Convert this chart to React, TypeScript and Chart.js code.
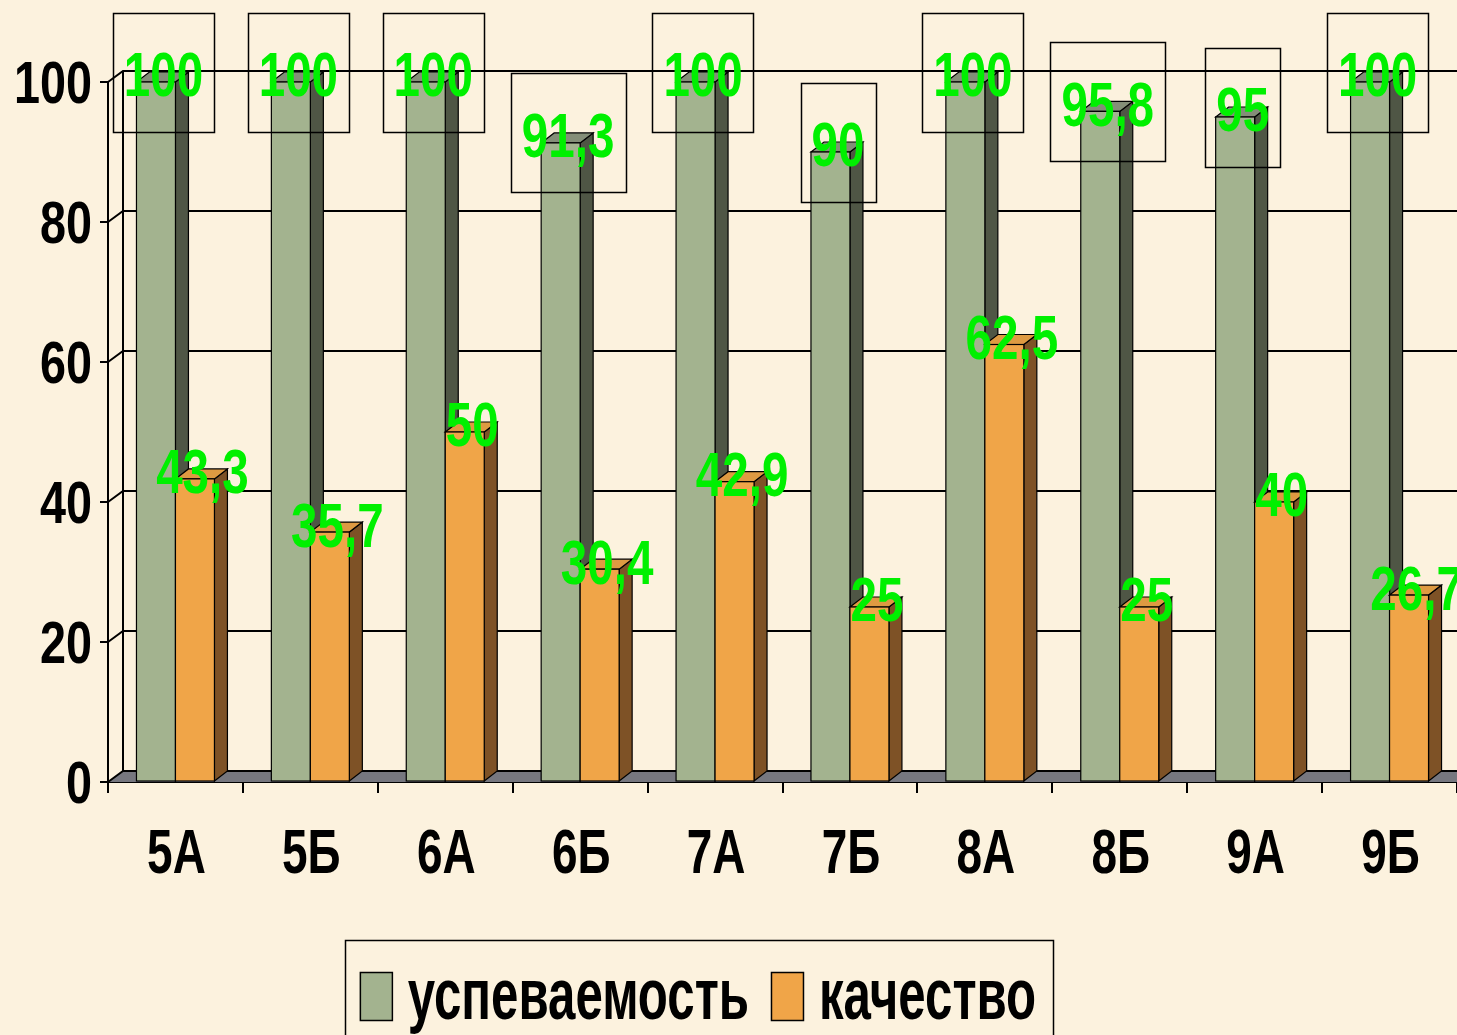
import React, { useEffect, useRef } from 'react';
import { Chart, registerables } from 'chart.js';

Chart.register(...registerables);

const categories = ['5А', '5Б', '6А', '6Б', '7А', '7Б', '8А', '8Б', '9А', '9Б'];
const seriesNames = ['успеваемость', 'качество'];
const uspevaemost = [100, 100, 100, 91.3, 100, 90, 100, 95.8, 95, 100];
const kachestvo = [43.3, 35.7, 50, 30.4, 42.9, 25, 62.5, 25, 40, 26.7];
const yMin = 0;
const yMax = 100;
const yStep = 20;

const FONT = '"Liberation Sans", Arial, sans-serif';
const SX = 0.82; // horizontal squeeze to imitate a narrow face
const BG = '#fcf2de';
const GREEN = { front: '#a3b38f', side: '#4f5645', top: '#848e78' };
const ORANGE = { front: '#f0a548', side: '#7e5226', top: '#de9a42' };
const FLOOR = '#76777f';
const LABEL = '#00f000';
const DX = 13;
const DY = 10;
const WDX = 15;
const WDY = 11;

const fmt = (v: number) => String(v).replace('.', ',');

function setFont(ctx: CanvasRenderingContext2D, size: number) {
  ctx.font = `bold ${size}px ${FONT}`;
}

function textW(ctx: CanvasRenderingContext2D, text: string) {
  return ctx.measureText(text).width * SX;
}

function drawText(
  ctx: CanvasRenderingContext2D,
  text: string,
  x: number,
  baseline: number,
  align: CanvasTextAlign,
  sy: number,
  color: string
) {
  ctx.save();
  ctx.fillStyle = color;
  ctx.textAlign = align;
  ctx.textBaseline = 'alphabetic';
  ctx.translate(x, baseline);
  ctx.scale(SX, sy);
  ctx.fillText(text, 0, 0);
  ctx.restore();
}

const threeD = {
  id: 'threeD',
  beforeDatasetsDraw(chart: any) {
    const { ctx, chartArea: a, scales } = chart;
    const y = scales.y;
    const y0 = y.getPixelForValue(yMin);
    const yTop = y.getPixelForValue(yMax);
    ctx.save();
    ctx.fillStyle = FLOOR;
    ctx.beginPath();
    ctx.moveTo(a.left, y0);
    ctx.lineTo(a.left + WDX, y0 - WDY);
    ctx.lineTo(a.right + WDX, y0 - WDY);
    ctx.lineTo(a.right, y0);
    ctx.closePath();
    ctx.fill();
    ctx.strokeStyle = '#000';
    ctx.lineWidth = 2;
    y.ticks.forEach((t: any) => {
      const py = y.getPixelForValue(t.value);
      ctx.beginPath();
      ctx.moveTo(a.left, py);
      ctx.lineTo(a.left + WDX, py - WDY);
      ctx.lineTo(a.right + WDX, py - WDY);
      ctx.stroke();
    });
    ctx.beginPath();
    ctx.moveTo(a.left + WDX, y0 - WDY);
    ctx.lineTo(a.left + WDX, yTop - WDY);
    ctx.stroke();
    ctx.restore();
  },
  beforeDatasetDraw() {
    return false;
  },
  afterDatasetsDraw(chart: any) {
    const { ctx } = chart;
    const palettes = [GREEN, ORANGE];
    const n = chart.data.labels.length;
    ctx.save();
    ctx.strokeStyle = '#000';
    ctx.lineWidth = 1.2;
    for (let i = 0; i < n; i++) {
      chart.data.datasets.forEach((ds: any, d: number) => {
        const el = chart.getDatasetMeta(d).data[i];
        const { x, y, base, width } = el.getProps(['x', 'y', 'base', 'width'], true);
        const p = palettes[d];
        const xl = x - width / 2;
        const xr = x + width / 2;
        ctx.fillStyle = p.side;
        ctx.beginPath();
        ctx.moveTo(xr, y);
        ctx.lineTo(xr + DX, y - DY);
        ctx.lineTo(xr + DX, base - DY);
        ctx.lineTo(xr, base);
        ctx.closePath();
        ctx.fill();
        ctx.stroke();
        ctx.fillStyle = p.top;
        ctx.beginPath();
        ctx.moveTo(xl, y);
        ctx.lineTo(xl + DX, y - DY);
        ctx.lineTo(xr + DX, y - DY);
        ctx.lineTo(xr, y);
        ctx.closePath();
        ctx.fill();
        ctx.stroke();
        ctx.fillStyle = p.front;
        ctx.fillRect(xl, y, width, base - y);
        ctx.strokeRect(xl, y, width, base - y);
      });
    }
    // value labels
    const size = 58;
    const sy = 1.08;
    setFont(ctx, size);
    const cap = 0.716 * size * sy;
    chart.data.datasets.forEach((ds: any, d: number) => {
      const meta = chart.getDatasetMeta(d);
      meta.data.forEach((el: any, i: number) => {
        const { x, y } = el.getProps(['x', 'y'], true);
        const text = fmt(ds.data[i]);
        const cx = x + DX / 2 + 1;
        const cy = y - 8;
        if (d === 0) {
          const w = textW(ctx, text) + 22;
          const h = 119;
          ctx.strokeStyle = '#000';
          ctx.lineWidth = 1.5;
          ctx.strokeRect(Math.round(cx - w / 2) + 0.5, Math.round(cy - 2 - h / 2) + 0.5, Math.round(w), h);
        }
        drawText(ctx, text, cx, cy + cap / 2, 'center', sy, LABEL);
      });
    });
    ctx.restore();
  },
  afterDraw(chart: any) {
    const { ctx, scales } = chart;
    ctx.save();
    // y tick labels
    const ys = scales.y;
    const ySize = 57;
    const ySy = 1.04;
    setFont(ctx, ySize);
    ys.ticks.forEach((t: any) => {
      const py = ys.getPixelForValue(t.value);
      drawText(ctx, String(t.label), 92, py + (0.716 * ySize * ySy) / 2, 'right', ySy, '#000');
    });
    // x tick labels
    const xs = scales.x;
    const xSize = 56;
    const xSy = 1.12;
    setFont(ctx, xSize);
    xs.ticks.forEach((t: any, i: number) => {
      const px = xs.getPixelForTick(i);
      drawText(ctx, String(xs.getLabelForValue(t.value)), px + 1, 873, 'center', xSy, '#000');
    });
    // legend
    const size = 60;
    const sy = 1.2;
    setFont(ctx, size);
    const sw = 32;
    const sh = 48;
    const gap1 = 16;
    const gap2 = 22;
    const colors = [GREEN.front, ORANGE.front];
    const widths = chart.data.datasets.map((ds: any) => textW(ctx, ds.label));
    const total = widths.reduce((s: number, w: number) => s + sw + gap1 + w, 0) + gap2 * (widths.length - 1);
    const center = 698;
    let x = center - total / 2;
    const boxL = x - 15;
    const boxR = x + total + 17;
    ctx.strokeStyle = '#000';
    ctx.lineWidth = 1.5;
    ctx.strokeRect(Math.round(boxL) + 0.5, 940.5, Math.round(boxR - boxL), 130);
    chart.data.datasets.forEach((ds: any, d: number) => {
      ctx.fillStyle = colors[d];
      ctx.fillRect(x, 972, sw, sh);
      ctx.strokeRect(x + 0.5, 972.5, sw, sh);
      drawText(ctx, ds.label, x + sw + gap1, 1019, 'left', sy, '#000');
      x += sw + gap1 + widths[d] + gap2;
    });
    ctx.restore();
  },
};

export default function App() {
  const ref = useRef<HTMLCanvasElement | null>(null);
  useEffect(() => {
    if (!ref.current) return;
    const tickFont = { family: FONT, size: 56, weight: 'bold' as const };
    const chart = new Chart(ref.current, {
      type: 'bar',
      data: {
        labels: categories,
        datasets: [
          { label: seriesNames[0], data: uspevaemost, backgroundColor: GREEN.front },
          { label: seriesNames[1], data: kachestvo, backgroundColor: ORANGE.front },
        ],
      },
      options: {
        responsive: false,
        animation: false,
        devicePixelRatio: 1,
        layout: { padding: { left: 0, top: 82, right: 0, bottom: 153 } },
        datasets: { bar: { categoryPercentage: 0.578, barPercentage: 1 } },
        plugins: { legend: { display: false }, tooltip: { enabled: false } },
        scales: {
          x: {
            offset: true,
            grid: { drawOnChartArea: false, drawTicks: true, tickLength: 11, color: '#000', lineWidth: 2, offset: true },
            border: { display: true, color: '#000', width: 2 },
            ticks: { color: 'rgba(0,0,0,0)', font: tickFont, padding: 22, maxRotation: 0, autoSkip: false },
            afterFit(s: any) {
              s.height = 100;
            },
          },
          y: {
            min: yMin,
            max: yMax,
            ticks: { stepSize: yStep, color: 'rgba(0,0,0,0)', font: tickFont, padding: 8 },
            grid: { drawOnChartArea: false, tickLength: 8, color: '#000', lineWidth: 2 },
            border: { display: true, color: '#000', width: 2 },
            afterFit(s: any) {
              s.width = 108;
            },
          },
        },
      },
      plugins: [threeD],
    });
    return () => chart.destroy();
  }, []);
  return (
    <div style={{ position: 'fixed', left: 0, top: 0, width: 1457, height: 1035, background: BG, overflow: 'hidden' }}>
      <canvas ref={ref} width={1457} height={1035} style={{ width: 1457, height: 1035, display: 'block' }} />
    </div>
  );
}
